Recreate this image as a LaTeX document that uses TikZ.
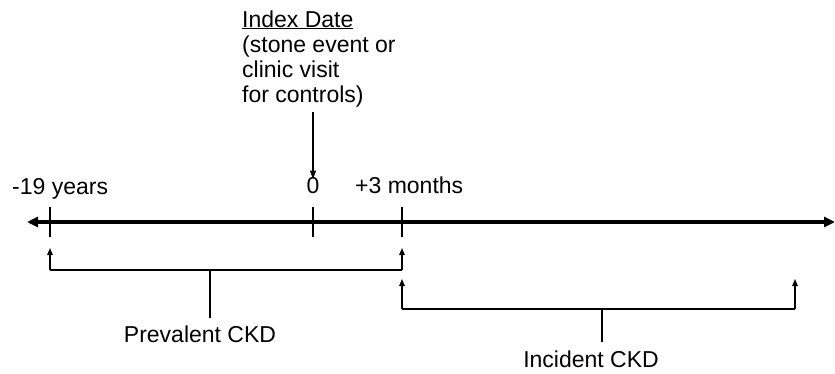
\documentclass[tikz,border=0pt]{standalone}
\usepackage{fontspec}
\setmainfont{Liberation Sans}
\usetikzlibrary{arrows.meta}
\tikzset{
  lbl/.style={inner sep=0pt, font=\fontsize{23bp}{25bp}\selectfont, text=black},
  axisline/.style={line width=3.2bp, {Triangle[length=11bp,width=10bp]}-{Triangle[length=11bp,width=10bp]}},
  tickline/.style={line width=2bp},
  brk/.style={line width=2bp},
  uparrow/.style={line width=1.3bp, -{Triangle[length=7bp,width=5.5bp]}},
  downarrow/.style={line width=1.3bp, -{Triangle[length=8bp,width=6bp]}}
}
\begin{document}
\begin{tikzpicture}[x=1bp,y=-1bp]
\useasboundingbox (0,0) rectangle (835,373);
% axis
\coordinate (axL) at (27,222);
\coordinate (axR) at (835,222);
\draw[axisline] (axL) -- (axR);
% ticks
\coordinate (tA) at (50,222);
\coordinate (tB) at (313,222);
\coordinate (tC) at (402,222);
\draw[tickline] (tA) ++(0,-15) -- ++(0,30);
\draw[tickline] (tB) ++(0,-15) -- ++(0,30);
\draw[tickline] (tC) ++(0,-15) -- ++(0,30);
% tick labels
\node[lbl, anchor=base west] (m19) at (12,194) {-19 years};
\node[lbl, anchor=base] (zero) at (313,193) {0};
\node[lbl, anchor=base west] (p3) at (355,193) {+3 months};
% index date text
\node[lbl, anchor=base west] (idx1) at (242,27) {\underline{Index Date}};
\node[lbl, anchor=base west] (idx2) at (242,52) {(stone event or};
\node[lbl, anchor=base west] (idx3) at (242,77) {clinic visit};
\node[lbl, anchor=base west] (idx4) at (242,102) {for controls)};
\coordinate (idxArrowStart) at (313,112);
\draw[downarrow] (idxArrowStart) -- ([yshift=-2bp]zero.north);
% prevalent bracket
\coordinate (pL) at (50,270);
\coordinate (pR) at (402,270);
\coordinate (pM) at (210,270);
\coordinate (pMend) at (210,318);
\draw[brk] (pL) -- (pR);
\draw[uparrow] (pL) -- ++(0,-22);
\draw[uparrow] (pR) -- ++(0,-22);
\draw[brk] (pM) -- (pMend);
\node[lbl, anchor=base] (prev) at (200,342) {Prevalent CKD};
% incident bracket
\coordinate (iL) at (402,309);
\coordinate (iR) at (795,309);
\coordinate (iM) at (602,309);
\coordinate (iMend) at (602,342);
\draw[brk] (iL) -- (iR);
\draw[uparrow] (iL) -- ++(0,-30);
\draw[uparrow] (iR) -- ++(0,-30);
\draw[brk] (iM) -- (iMend);
\node[lbl, anchor=base] (inc) at (591,367) {Incident CKD};
\end{tikzpicture}
\end{document}
